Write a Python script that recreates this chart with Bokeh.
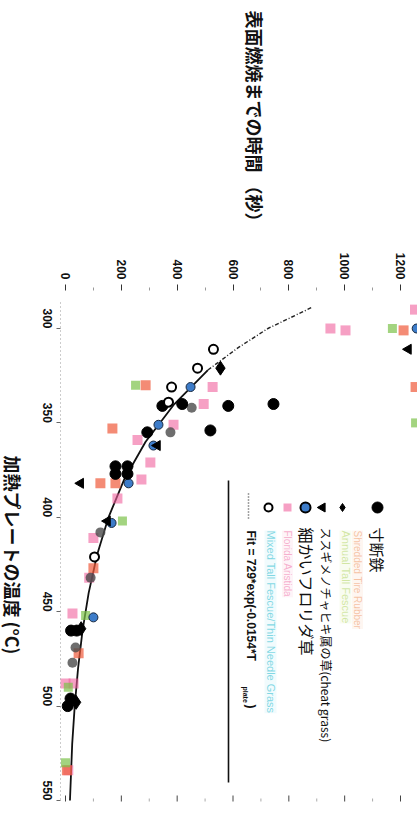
import math
from bokeh.plotting import figure
from bokeh.models import Range1d, FixedTicker, Label
from bokeh.embed import file_html
from bokeh.resources import INLINE

# ---------------- data (time to surface ignition [s] vs plate temperature [degC]) -------------
temp_ticks = [300, 350, 400, 450, 500, 550]
time_ticks = [0, 200, 400, 600, 800, 1000, 1200]
time_minor = [100, 300, 500, 700, 900, 1100]

iron_temp = [340, 341, 354, 340, 341, 355, 373, 373, 377, 377, 460, 460, 496, 500]
iron_time = [745, 583, 519, 418, 347, 293, 179, 222, 179, 222, 20, 40, 18, 8]

diamond_temp = [321, 459, 498]
diamond_time = [555, 56, 38]

tri_temp = [382, 311, 362, 402]
tri_time = [54, 1228, 329, 150]

blue_temp = [331, 351, 362, 382, 403, 453, 300]
blue_time = [448, 333, 315, 226, 165, 100, 1258]

pink_temp = [300, 301, 331, 340, 351, 359, 371, 380, 390, 411, 432, 451, 488, 488, 534, 290]
pink_time = [949, 1003, 527, 495, 387, 258, 304, 272, 186, 100, 85, 25, 0, 29, 10, 1252]

open_temp = [311, 321, 331, 339, 421]
open_time = [530, 473, 380, 369, 104]

orange_temp = [301, 330, 353, 382, 382, 427, 472, 534, 331]
orange_time = [1211, 287, 168, 179, 125, 100, 47, 5, 1254]

green_temp = [300, 330, 402, 452, 490, 530, 350]
green_time = [1171, 251, 204, 72, 10, 0, 1254]

gray_temp = [342, 355, 408, 432, 469, 477]
gray_time = [452, 376, 125, 90, 36, 25]

fit_dash_temp = [289, 300, 310, 322]
fit_dash_time = [880, 725, 620, 510]
fit_temp = [322, 340, 360, 380, 400, 420, 440, 460, 480, 500, 520, 550]
fit_time = [510, 390, 287, 210, 154, 113, 83, 61, 45, 33, 24, 16]

# ---------------- layout (frame = whole canvas, axes pinned inside) -------------
W, H = 417, 819
PX_PER_S = 335.0 / 1200.0      # horizontal pixels per second
PX_PER_C = 472.0 / 250.0       # vertical pixels per degree
SX0, SY0 = 65.0, 328.0         # page pixel of (0 s, 300 C)
X0 = (0 - SX0) / PX_PER_S
X1 = (W - SX0) / PX_PER_S
T_TOP = 300 + (0 - SY0) / PX_PER_C
T_BOT = 300 + (H - SY0) / PX_PER_C


def s2d(sx, sy):
    return ((sx - SX0) / PX_PER_S, 300 + (sy - SY0) / PX_PER_C)


AX_T = s2d(60, 0)[0]
AX_Y = s2d(0, 290)[1]
FAR_Y = s2d(0, 801)[1]
RIGHT_T = s2d(409, 0)[0]

p = figure(width=W, height=H, x_range=Range1d(X0, X1), y_range=Range1d(T_BOT, T_TOP),
           output_backend="svg", toolbar_location=None, x_axis_location="above",
           min_border_left=0, min_border_right=0, min_border_top=0, min_border_bottom=0)
p.xgrid.visible = False
p.ygrid.visible = False
p.outline_line_color = None
p.background_fill_color = "white"

ROT = -math.pi / 2

xa = p.xaxis[0]
xa.fixed_location = AX_Y
xa.bounds = (AX_T, RIGHT_T)
xa.ticker = FixedTicker(ticks=time_ticks, minor_ticks=time_minor)
xa.major_label_orientation = ROT
xa.major_label_text_font = "Liberation Sans"
xa.major_label_text_font_size = "12px"
xa.major_label_text_font_style = "bold"
xa.major_label_text_color = "#111111"
xa.major_label_standoff = 5
xa.axis_line_color = None
xa.major_tick_out = 6
xa.major_tick_in = 0
xa.minor_tick_out = 3
xa.minor_tick_in = 0
xa.major_tick_line_color = "#333333"
xa.minor_tick_line_color = "#999999"

ya = p.yaxis[0]
ya.fixed_location = AX_T
ya.bounds = (286, FAR_Y)
ya.ticker = FixedTicker(ticks=temp_ticks)
ya.major_label_orientation = ROT
ya.major_label_text_font = "Liberation Sans"
ya.major_label_text_font_size = "12px"
ya.major_label_text_font_style = "bold"
ya.major_label_text_color = "#111111"
ya.major_label_standoff = 9
ya.axis_line_color = "#999999"
ya.axis_line_dash = "1 3"
ya.major_tick_out = 4
ya.major_tick_in = 0
ya.minor_tick_line_color = None
ya.major_tick_line_color = "#666666"

# mirror ticks along the far edge (inward)
tick_len = 6 / PX_PER_C
p.segment(x0=time_ticks, y0=[FAR_Y] * len(time_ticks), x1=time_ticks,
          y1=[FAR_Y - tick_len] * len(time_ticks), line_color="#444444", line_width=1)
p.segment(x0=time_minor, y0=[FAR_Y] * len(time_minor), x1=time_minor,
          y1=[FAR_Y - tick_len / 2] * len(time_minor), line_color="#aaaaaa", line_width=1)

# ---------------- fit line -------------
p.line(fit_dash_time, fit_dash_temp, line_color="#222222", line_width=1.4, line_dash="4 2 1 2")
p.line(fit_time, fit_temp, line_color="#111111", line_width=1.8)

# ---------------- points -------------
p.scatter(pink_time, pink_temp, marker="square", size=10, fill_color="#f0609c", fill_alpha=0.6, line_color=None)
p.scatter(orange_time, orange_temp, marker="square", size=10, fill_color="#f05a3a", fill_alpha=0.7, line_color=None)
p.scatter(green_time, green_temp, marker="square", size=9, fill_color="#7cc24a", fill_alpha=0.7, line_color=None)
p.scatter(gray_time, gray_temp, marker="circle", size=10, fill_color="#4a4a4a", fill_alpha=0.8, line_color=None)
p.scatter(blue_time, blue_temp, marker="circle", size=9, fill_color="#3d7cc9", line_color="#1a2a40", line_width=1)
p.scatter(iron_time, iron_temp, marker="circle", size=11, fill_color="black", line_color="black")
p.scatter(diamond_time, diamond_temp, marker="diamond", size=14, fill_color="black", line_color="black")
p.scatter(tri_time, tri_temp, marker="triangle", angle=math.pi / 2, size=10, fill_color="black", line_color="black")
p.scatter(open_time, open_temp, marker="circle", size=9, fill_color="white", line_color="black", line_width=2)

# ---------------- legend (drawn rotated like the reference) -------------
LEG_Y = 507
def lg(sx):
    return s2d(sx, LEG_Y)

x, y = lg(377); p.scatter([x], [y], marker="circle", size=11, fill_color="black", line_color="black")
x, y = lg(342); p.scatter([x], [y], marker="diamond", size=8, fill_color="black", line_color="black")
x, y = lg(322); p.scatter([x], [y], marker="triangle", angle=math.pi / 2, size=9, fill_color="black", line_color="black")
x, y = lg(305); p.scatter([x], [y], marker="circle", size=10, fill_color="#3d7cc9", line_color="black", line_width=2)
x, y = lg(287); p.scatter([x], [y], marker="square", size=8, fill_color="#f0609c", fill_alpha=0.6, line_color=None)
x, y = lg(268); p.scatter([x], [y], marker="circle", size=8, fill_color="white", line_color="black", line_width=2)
xa_, ya_ = s2d(248, 493); xb_, yb_ = s2d(248, 520)
p.line([xa_, xb_], [ya_, yb_], line_color="#444444", line_width=1.5, line_dash="1 2")
xa_, ya_ = s2d(228, 480); xb_, yb_ = s2d(228, 782)
p.line([xa_, xb_], [ya_, yb_], line_color="#111111", line_width=1.6)


def rlabel(sx, sy, text, size, color="#111111", bold=False, font="Noto Sans CJK JP", alpha=1.0, bg=None):
    x, y = s2d(sx, sy)
    lab = Label(x=x, y=y, text=text, angle=ROT, text_align="left", text_baseline="middle",
                text_font=font, text_font_size=size, text_color=color, text_alpha=alpha,
                text_font_style="bold" if bold else "normal")
    if bg:
        lab.background_fill_color = bg
        lab.background_fill_alpha = 0.35
    p.add_layout(lab)


rlabel(377, 527, "寸断鉄", "15px")
rlabel(357, 530, "Shredded Tire Rubber", "10px", color="#f0a070", alpha=0.6, font="Liberation Sans", bg="#fde6d6")
rlabel(345, 530, "Annual Tall Fescue", "11px", color="#b8d870", alpha=0.6, font="Liberation Sans", bg="#eef6d8")
rlabel(326, 527, "ススギメノチャヒキ属の草(cheat grass)", "12px")
rlabel(306, 527, "細かいフロリダ草", "16px")
rlabel(287, 530, "Florida Aristida", "10px", color="#f080b0", alpha=0.6, font="Liberation Sans", bg="#fde0ec")
rlabel(270, 530, "Mixed Tall Fescue/Thin Needle Grass", "11px", color="#50c8d8", alpha=0.7, font="Liberation Sans", bg="#d8f4f8")
rlabel(250, 530, "Fit = 729*exp(-0.0154*T", "12px", bold=True, font="Liberation Sans")
rlabel(245, 686, "plate", "7px", bold=True, font="Liberation Sans")
rlabel(250, 704, ")", "12px", bold=True, font="Liberation Sans")

# axis titles
rlabel(254, 10, "表面燃焼までの時間 （秒）", "18px", bold=True)
rlabel(12, 455, "加熱プレートの温度 (°C)", "18px", bold=True)

open("out.html", "w").write(file_html(p, INLINE))
